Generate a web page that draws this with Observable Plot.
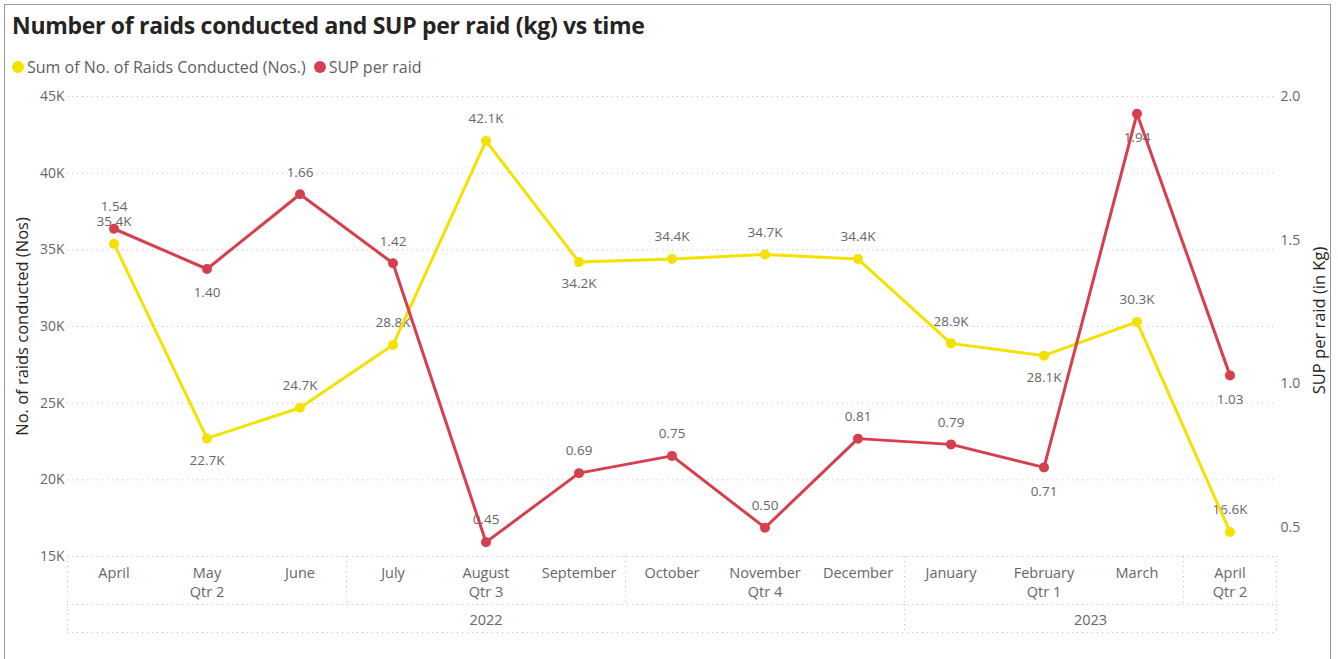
<!DOCTYPE html>
<html>
<head>
<meta charset="utf-8">
<script src="https://cdn.jsdelivr.net/npm/d3@7"></script>
<script src="https://cdn.jsdelivr.net/npm/@observablehq/plot@0.6"></script>
<style>
  html, body { margin: 0; padding: 0; background: #fff; width: 1338px; height: 659px; overflow: hidden; }
  body { font-family: "Open Sans", "Noto Sans", sans-serif; position: relative; }
  #frame { position: absolute; left: 4px; top: 4px; width: 1327px; height: 680px; border: 1px solid #9a9a9a; box-sizing: border-box; }
  #title { position: absolute; left: 12px; top: 9px; font-size: 23px; font-weight: 700; color: #252423; letter-spacing: -0.3px; white-space: nowrap; }
  #legend { position: absolute; left: 12px; top: 56px; font-size: 16px; color: #605e5c; display: flex; align-items: center; white-space: nowrap; }
  #legend .sw { display: inline-block; width: 12px; height: 12px; border-radius: 50%; margin-right: 3px; }
  #legend .item { display: flex; align-items: center; margin-right: 8px; }
  #chart { position: absolute; left: 0; top: 80px; }
</style>
</head>
<body>
<div id="frame"></div>
<div id="title">Number of raids conducted and SUP per raid (kg) vs time</div>
<div id="legend"></div>
<div id="chart"></div>
<script>
// ---- data ----
const months = ["April","May","June","July","August","September","October","November","December","January","February","March","April"];
const raids = [35400,22700,24700,28800,42100,34200,34400,34700,34400,28900,28100,30300,16600];
const sup = [1.54,1.40,1.66,1.42,0.45,0.69,0.75,0.50,0.81,0.79,0.71,1.94,1.03];
const raidLabelSide = ["top","bottom","top","top","top","bottom","top","top","top","top","bottom","top","top"];
const supLabelSide = ["top","bottom","top","top","top","top","top","top","top","top","bottom","bottom","bottom"];
const quarterLabels = ["Qtr 2","Qtr 3","Qtr 4","Qtr 1","Qtr 2"];
const quarterFirst = [0,3,6,9,12];
const quarterLast = [2,5,8,11,12];
const yearLabels = ["2022","2023"];
const yearFirst = [0,9];
const yearLast = [8,12];
const leftTicks = [15000,20000,25000,30000,35000,40000,45000];
const rightTicks = [0.5,1.0,1.5,2.0];
const seriesNames = ["Sum of No. of Raids Conducted (Nos.)","SUP per raid"];

const yellow = "#F5E100";
const red = "#D6404E";
const grey = "#666666";

// secondary axis mapping (SUP domain -> raids domain)
const leftDomain = [15000,45000];
const rightDomain = [0.4,2.0];
const toLeft = v => leftDomain[0] + (v - rightDomain[0]) / (rightDomain[1] - rightDomain[0]) * (leftDomain[1] - leftDomain[0]);
const toRight = v => rightDomain[0] + (v - leftDomain[0]) / (leftDomain[1] - leftDomain[0]) * (rightDomain[1] - rightDomain[0]);

// legend
const legend = document.getElementById("legend");
[yellow, red].forEach((c, i) => {
  const it = document.createElement("span");
  it.className = "item";
  it.innerHTML = `<span class="sw" style="background:${c}"></span><span>${seriesNames[i]}</span>`;
  legend.appendChild(it);
});

const idx = d3.range(months.length);
const rows = idx.map(i => ({i, month: months[i], raids: raids[i], sup: sup[i], supY: toLeft(sup[i]), rSide: raidLabelSide[i], sSide: supLabelSide[i]}));
const quarters = quarterLabels.map((q, k) => ({label: q, center: (quarterFirst[k] + quarterLast[k]) / 2, start: quarterFirst[k] - 0.5, end: quarterLast[k] + 0.5}));
const years = yearLabels.map((y, k) => ({label: y, center: (yearFirst[k] + yearLast[k]) / 2, start: yearFirst[k] - 0.5, end: yearLast[k] + 0.5}));
const qBounds = Array.from(new Set(quarters.flatMap(q => [q.start, q.end])));
const yBounds = Array.from(new Set(years.flatMap(y => [y.start, y.end])));

const fmtK = v => (v / 1000).toFixed(1) + "K";
const font = "'Open Sans', 'Noto Sans', sans-serif";
const dash = "1.2,3.8";
const gridColor = "#c4c4c4";

const chart = Plot.plot({
  width: 1338,
  height: 579,
  marginTop: 16,
  marginBottom: 103,
  marginLeft: 67,
  marginRight: 62,
  style: {fontFamily: font, background: "transparent", overflow: "visible"},
  x: {type: "linear", domain: [-0.5, 12.5]},
  y: {domain: leftDomain},
  marks: [
    Plot.gridY(leftTicks, {stroke: gridColor, strokeOpacity: 1, strokeDasharray: dash}),
    // hierarchical x-axis separators
    Plot.ruleY([leftDomain[0]], {dy: 48, stroke: gridColor, strokeOpacity: 1, strokeDasharray: dash}),
    Plot.ruleY([leftDomain[0]], {dy: 76, stroke: gridColor, strokeOpacity: 1, strokeDasharray: dash}),
    Plot.ruleX(qBounds, {insetTop: 460, insetBottom: -48, stroke: gridColor, strokeOpacity: 1, strokeDasharray: dash}),
    Plot.ruleX(yBounds, {insetTop: 508, insetBottom: -76, stroke: gridColor, strokeOpacity: 1, strokeDasharray: dash}),
    Plot.axisX(idx, {tickFormat: i => months[i], tickSize: 0, tickPadding: 11, fontSize: 14.5, color: grey, label: null}),
    Plot.text(quarters, {x: "center", text: "label", frameAnchor: "bottom", dy: 40, fontSize: 14.5, fill: grey}),
    Plot.text(years, {x: "center", text: "label", frameAnchor: "bottom", dy: 68, fontSize: 14.5, fill: grey}),
    // y axes
    Plot.axisY(leftTicks, {tickFormat: d => d / 1000 + "K", tickSize: 0, tickPadding: 3, fontSize: 14, color: grey, label: null}),
    Plot.axisY(rightTicks.map(toLeft), {anchor: "right", tickFormat: d => toRight(d).toFixed(1), tickSize: 0, tickPadding: 4, fontSize: 14, color: grey, label: null}),
    Plot.text(["No. of raids conducted (Nos)"], {frameAnchor: "left", textAnchor: "middle", dx: -45, rotate: -90, fontSize: 16.5, fill: "#252423"}),
    Plot.text(["SUP per raid (in Kg)"], {frameAnchor: "right", textAnchor: "middle", dx: 43, dy: -6, rotate: -90, fontSize: 16.5, fill: "#252423"}),
    // data labels (drawn under the lines)
    Plot.text(rows.filter(d => d.rSide === "top"), {x: "i", y: "raids", text: d => fmtK(d.raids), dy: -22, fontSize: 13.5, fill: grey}),
    Plot.text(rows.filter(d => d.rSide === "bottom"), {x: "i", y: "raids", text: d => fmtK(d.raids), dy: 22, fontSize: 13.5, fill: grey}),
    Plot.text(rows.filter(d => d.sSide === "top"), {x: "i", y: "supY", text: d => d.sup.toFixed(2), dy: -22, fontSize: 13.5, fill: grey}),
    Plot.text(rows.filter(d => d.sSide === "bottom"), {x: "i", y: "supY", text: d => d.sup.toFixed(2), dy: 24, fontSize: 13.5, fill: grey}),
    // series
    Plot.line(rows, {x: "i", y: "raids", stroke: yellow, strokeWidth: 3}),
    Plot.dot(rows, {x: "i", y: "raids", r: 5, fill: yellow}),
    Plot.line(rows, {x: "i", y: "supY", stroke: red, strokeWidth: 3}),
    Plot.dot(rows, {x: "i", y: "supY", r: 5, fill: red})
  ]
});
document.getElementById("chart").appendChild(chart);
</script>
</body>
</html>
